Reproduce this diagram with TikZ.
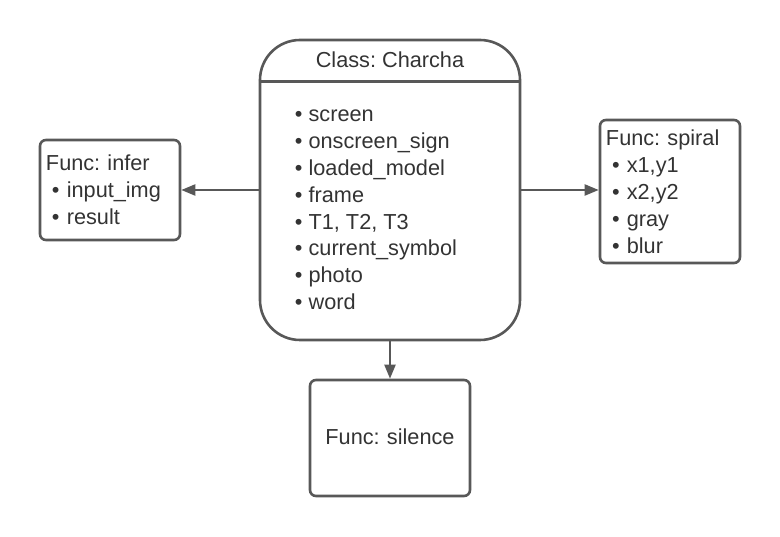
\documentclass[tikz,border=0pt]{standalone}
\usepackage{fontspec}
\setmainfont{Liberation Sans}
\usetikzlibrary{positioning,arrows.meta,calc}
\frenchspacing

\definecolor{lineGray}{RGB}{88,88,88}
\definecolor{textGray}{RGB}{51,51,51}

\begin{document}
\begin{tikzpicture}[node distance=280pt,>={Triangle[length=14pt,width=11pt]},
  line width=2.6pt,draw=lineGray]
  \useasboundingbox (-390pt,-347pt) rectangle (390pt,190pt);
  \tikzset{
    classBox/.style={rectangle,draw=lineGray,rounded corners=40pt,
      minimum width=260pt,minimum height=300pt},
    funcBox/.style={rectangle,draw=lineGray,rounded corners=6pt,align=left,
      inner xsep=6pt,text width=128pt,text=textGray,
      font=\fontsize{21.7}{27}\selectfont},
    plainText/.style={text=textGray,font=\fontsize{21.7}{26.8}\selectfont,
      inner sep=0pt,align=left},
    % connector style
    link/.style={->,draw=lineGray,line width=2.2pt}
  }

  %%% Class box
  \node[classBox] (main) {};
  \node[plainText] (title) at ([yshift=-21pt]main.north) {Class: Charcha};
  \draw ([yshift=-43pt]main.north west) -- ([yshift=-43pt]main.north east);
  \node[plainText, anchor=west] (attrs) at ([xshift=35pt,yshift=-20pt]main.west)
    {• screen\\• onscreen\_sign\\• loaded\_model\\• frame\\• T1, T2, T3\\
     • current\_symbol\\• photo\\• word};

  %%% Functions
  \node[funcBox, minimum height=100pt] (infer) [left of=main]
    {Func: infer\\\hspace*{6pt}• input\_img\\\hspace*{6pt}• result};
  \node[funcBox, minimum height=143pt] (spiral) [right of=main, yshift=-1.5pt]
    {Func: spiral\\\hspace*{6pt}• x1,y1\\\hspace*{6pt}• x2,y2\\\hspace*{6pt}• gray\\\hspace*{6pt}• blur};
  \node[funcBox, align=center, text width=148pt, minimum height=116pt] (silence)
    [below of=main, node distance=248pt] {\raisebox{2pt}{Func: silence}};

  % connectors
  \draw[link] (main.west) -- (infer.east);
  \draw[link] (main.east) -- (spiral.west |- main.east);
  \draw[link] (main.south) -- (silence.north);

\end{tikzpicture}
\end{document}
